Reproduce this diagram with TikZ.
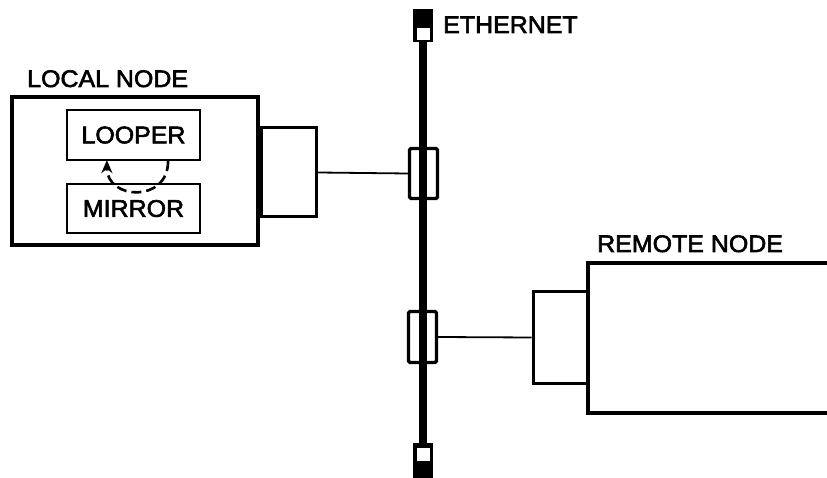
\documentclass[tikz,border=0pt]{standalone}
\usepackage{fontspec}
\setmainfont{Liberation Sans}[FakeStretch=1.04,FakeBold=2.5]
\usetikzlibrary{arrows.meta}
\begin{document}
\begin{tikzpicture}[x=1pt,y=-1pt,
  lbl/.style={font=\fontsize{24}{24}\selectfont, inner sep=0pt, anchor=base west},
  outerbox/.style={draw, line width=4.4pt, inner sep=0pt},
  innerbox/.style={draw, line width=2.2pt, inner sep=0pt, font=\fontsize{24}{24}\selectfont},
  stubbox/.style={draw, line width=3pt, inner sep=0pt},
  tapbox/.style={draw, line width=3.4pt, rounded corners=1.5pt, inner sep=0pt},
  term/.style={fill=black, inner sep=0pt, minimum width=20pt},
  slot/.style={fill=white, draw=none},
  buspath/.style={line width=8.5pt},
  wire/.style={line width=1.8pt}]
\useasboundingbox (0,0) rectangle (827,478);
% terminators
\node[term, minimum height=33pt] (tterm) at (423,25.5) {};
\node[term, minimum height=35pt] (bterm) at (423,460.5) {};
\fill[slot] (416.5,28.5) rectangle (429.5,40);
\fill[slot] (416.5,447.5) rectangle (429.5,461);
% bus
\draw[buspath] (tterm.south) -- (bterm.north);
% taps
\node[tapbox, minimum width=28pt, minimum height=50pt] (tapA) at (423.5,173.5) {};
\node[tapbox, minimum width=28pt, minimum height=51pt] (tapB) at (422.5,337) {};
% local node
\node[outerbox, minimum width=246pt, minimum height=148pt] (local) at (135,171) {};
\node[lbl] (localtxt) at (27,87) {LOCAL NODE};
\node[innerbox, minimum width=133pt, minimum height=50pt] (looper) at (133.5,135) {LOOPER};
\node[innerbox, minimum width=133pt, minimum height=49pt] (mirror) at (133.5,208.5) {MIRROR};
\node[stubbox, minimum width=55pt, minimum height=89pt, anchor=west] (stubL) at (local.east |- 0,172.5) {};
\draw[wire] (stubL.east) -- (tapA.west);
% loop arc
\coordinate (arcS) at ([xshift=-33pt]looper.south east);
\coordinate (arcE) at ([xshift=41pt,yshift=1pt]looper.south west);
\draw[line width=2.6pt, dash pattern=on 10pt off 5pt, -{Stealth[length=13pt,width=11pt]}]
  (arcS) .. controls +(0,42) and +(0,40) .. (arcE);
% remote node
\node[stubbox, minimum width=55pt, minimum height=91pt] (stubR) at (560.5,337.5) {};
\coordinate (remTL) at (588,263);
\coordinate (remBL) at (588,413);
\draw[line width=4.4pt] (827,263) -- (remTL) -- (remBL) -- (827,413);
\draw[wire] (tapB.east) -- (stubR.west);
\node[lbl] (remtxt) at (597,252) {REMOTE NODE};
\node[lbl] (ethtxt) at (443,33) {ETHERNET};
\end{tikzpicture}
\end{document}
